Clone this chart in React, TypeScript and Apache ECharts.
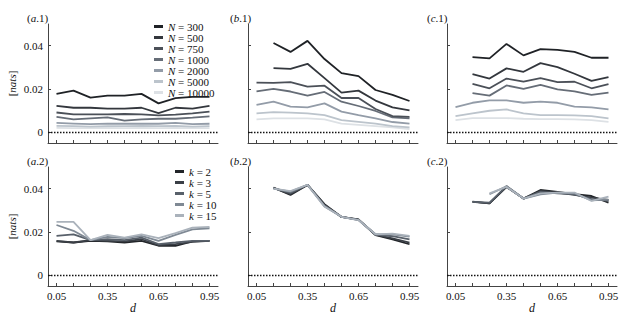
import React, { useEffect, useRef } from "react";
import * as echarts from "echarts";

const dValues = ["0.05", "0.15", "0.25", "0.35", "0.45", "0.55", "0.65", "0.75", "0.85", "0.95"];
const nNames = ["N = 300", "N = 500", "N = 750", "N = 1000", "N = 2000", "N = 5000", "N = 10000"];
const kNames = ["k = 2", "k = 3", "k = 5", "k = 10", "k = 15"];
const yTicks = [0, 0.02, 0.04];

// panel (a.1)
const a1N300 = [0.0177, 0.0192, 0.016, 0.0169, 0.0169, 0.0177, 0.0133, 0.0157, 0.0163, 0.0163];
const a1N500 = [0.0122, 0.0113, 0.0113, 0.0109, 0.0109, 0.0113, 0.0088, 0.0113, 0.0109, 0.0122];
const a1N750 = [0.0091, 0.0082, 0.0082, 0.0082, 0.0084, 0.0082, 0.0078, 0.0081, 0.0087, 0.0095];
const a1N1000 = [0.0071, 0.0059, 0.0064, 0.0068, 0.0053, 0.0059, 0.0062, 0.0062, 0.0067, 0.0073];
const a1N2000 = [0.0043, 0.004, 0.0037, 0.004, 0.0039, 0.004, 0.0039, 0.0043, 0.0037, 0.0039];
const a1N5000 = [0.0029, 0.0028, 0.0026, 0.0028, 0.0028, 0.0029, 0.0028, 0.0029, 0.0026, 0.0028];
const a1N10000 = [0.002, 0.0019, 0.0019, 0.002, 0.0019, 0.002, 0.0019, 0.002, 0.0019, 0.0019];

// panel (b.1)
const b1N300 = [null, 0.0412, 0.0371, 0.0422, 0.0338, 0.0273, 0.0259, 0.0195, 0.0172, 0.0144];
const b1N500 = [null, 0.0296, 0.0293, 0.0316, 0.025, 0.0183, 0.0192, 0.0146, 0.0115, 0.0101];
const b1N750 = [0.0229, 0.0228, 0.0231, 0.0211, 0.0215, 0.0158, 0.0158, 0.0107, 0.0074, 0.0071];
const b1N1000 = [0.0189, 0.02, 0.0188, 0.0169, 0.0186, 0.0141, 0.0121, 0.0098, 0.0068, 0.0064];
const b1N2000 = [0.0126, 0.0141, 0.0118, 0.0115, 0.0133, 0.0095, 0.0079, 0.0064, 0.0047, 0.004];
const b1N5000 = [0.0087, 0.0093, 0.009, 0.0087, 0.0079, 0.0056, 0.0048, 0.004, 0.0028, 0.0022];
const b1N10000 = [0.0059, 0.0064, 0.0064, 0.0064, 0.0059, 0.004, 0.0034, 0.0028, 0.0022, 0.0014];

// panel (c.1)
const c1N300 = [null, 0.0347, 0.0341, 0.0408, 0.0355, 0.0384, 0.038, 0.0371, 0.0344, 0.0344];
const c1N500 = [null, 0.0268, 0.0248, 0.0295, 0.0279, 0.0319, 0.0301, 0.027, 0.0237, 0.0254];
const c1N750 = [null, 0.0223, 0.0203, 0.0248, 0.0234, 0.025, 0.0231, 0.0233, 0.0203, 0.0222];
const c1N1000 = [null, 0.0181, 0.0169, 0.0216, 0.02, 0.0219, 0.0198, 0.0189, 0.0172, 0.0183];
const c1N2000 = [0.0116, 0.0136, 0.0147, 0.0147, 0.0136, 0.0141, 0.0136, 0.0118, 0.0115, 0.0105];
const c1N5000 = [0.0074, 0.0087, 0.0099, 0.0105, 0.0087, 0.0079, 0.0079, 0.0078, 0.0074, 0.0064];
const c1N10000 = [0.0056, 0.0065, 0.0065, 0.0065, 0.0062, 0.006, 0.006, 0.0059, 0.0056, 0.0048];

// panel (a.2)
const a2k2 = [0.0156, 0.0151, 0.0159, 0.0156, 0.0151, 0.0159, 0.0136, 0.0136, 0.0156, 0.0159];
const a2k3 = [0.0159, 0.0151, 0.0162, 0.0159, 0.0156, 0.0166, 0.0139, 0.0144, 0.0154, 0.0159];
const a2k5 = [0.0182, 0.0189, 0.0162, 0.0166, 0.0162, 0.0174, 0.0144, 0.0151, 0.0159, 0.0159];
const a2k10 = [0.0232, 0.0205, 0.0162, 0.0177, 0.0171, 0.0182, 0.0159, 0.0186, 0.0212, 0.0217];
const a2k15 = [0.0246, 0.0246, 0.0162, 0.0186, 0.0174, 0.0189, 0.0171, 0.0194, 0.022, 0.0223];

// panel (b.2)
const b2k2 = [null, 0.0405, 0.0371, 0.0417, 0.0328, 0.0269, 0.0258, 0.0185, 0.0166, 0.0143];
const b2k3 = [null, 0.0403, 0.0375, 0.0417, 0.0325, 0.0269, 0.0257, 0.0187, 0.017, 0.015];
const b2k5 = [null, 0.0402, 0.038, 0.0418, 0.0322, 0.027, 0.0256, 0.0188, 0.018, 0.0165];
const b2k10 = [null, 0.04, 0.0386, 0.0418, 0.0318, 0.027, 0.0255, 0.0189, 0.0189, 0.0178];
const b2k15 = [null, 0.04, 0.0389, 0.0417, 0.0317, 0.027, 0.0255, 0.0189, 0.0192, 0.0182];

// panel (c.2)
const c2k2 = [null, 0.034, 0.0332, 0.0408, 0.0354, 0.0394, 0.0385, 0.0374, 0.0366, 0.0335];
const c2k3 = [null, 0.0339, 0.0332, 0.0408, 0.0354, 0.0389, 0.0382, 0.0371, 0.0358, 0.0348];
const c2k5 = [null, 0.0339, 0.0335, 0.0412, 0.0354, 0.0385, 0.0378, 0.0374, 0.0352, 0.0343];
const c2k10 = [null, null, 0.0374, 0.0411, 0.0354, 0.0374, 0.0382, 0.0378, 0.0346, 0.0349];
const c2k15 = [null, null, 0.0378, 0.0408, 0.0354, 0.0378, 0.0382, 0.0382, 0.0343, 0.0363];

const nColors = ["#1f2226", "#33373d", "#4b5058", "#666d77", "#939ca8", "#bcc4cc", "#dde1e5"];
const kColors = ["#222529", "#3a3f46", "#58606a", "#7f8994", "#aab2bb"];

const FONT = "'Liberation Serif', 'DejaVu Serif', serif";

export default function App() {
  const ref = useRef<HTMLDivElement>(null);
  useEffect(() => {
    if (!ref.current) return;
    const chart = echarts.init(ref.current, null, { renderer: "svg" });

    const lefts = [48, 248, 447];
    const tops = [24, 167];
    const W = 170;
    const H = 119;
    const panelLetters = ["a", "b", "c"];

    const grids: any[] = [];
    const xAxes: any[] = [];
    const yAxes: any[] = [];
    const titles: any[] = [];
    for (let r = 0; r < 2; r++) {
      for (let c = 0; c < 3; c++) {
        const idx = r * 3 + c;
        grids.push({ left: lefts[c], top: tops[r], width: W, height: H });
        xAxes.push({
          type: "category",
          gridIndex: idx,
          data: dValues,
          boundaryGap: true,
          name: r === 1 ? "d" : "",
          nameLocation: "middle",
          nameGap: 16,
          nameTextStyle: { fontFamily: FONT, fontStyle: "italic", fontSize: 12, color: "#111" },
          axisLine: { show: true, onZero: false, lineStyle: { color: "#444", width: 1 } },
          axisTick: { show: true, inside: true, length: 3, alignWithLabel: true, interval: 0, lineStyle: { color: "#444" } },
          axisLabel: {
            show: r === 1,
            interval: (i: number) => i % 3 === 0,
            margin: 4,
            fontFamily: FONT,
            fontSize: 11,
            color: "#111",
          },
          splitLine: { show: false },
        });
        yAxes.push({
          type: "value",
          gridIndex: idx,
          min: -0.005,
          max: 0.05,
          name: c === 0 ? "[{i|nats}]" : "",
          nameLocation: "middle",
          nameRotate: 90,
          nameGap: 31,
          nameTextStyle: {
            fontFamily: FONT,
            fontSize: 11,
            color: "#111",
            rich: { i: { fontFamily: FONT, fontStyle: "italic", fontSize: 11, color: "#111" } },
          },
          axisLine: { show: true, onZero: false, lineStyle: { color: "#444", width: 1 } },
          axisTick: { show: true, inside: true, length: 3, customValues: yTicks, lineStyle: { color: "#444" } },
          axisLabel: {
            show: c === 0,
            customValues: yTicks,
            margin: 5,
            fontFamily: FONT,
            fontSize: 11,
            color: "#111",
            formatter: (v: number) => (v === 0 ? "0" : v.toFixed(2)),
          },
          splitLine: { show: false },
        });
        titles.push({
          text: "({i|" + panelLetters[c] + "}." + (r + 1) + ")",
          left: [22, 225, 422][c],
          top: tops[r] - 17,
          textStyle: {
            fontFamily: FONT,
            fontSize: 11,
            fontWeight: "normal",
            color: "#111",
            rich: { i: { fontFamily: FONT, fontStyle: "italic", fontSize: 11, color: "#111" } },
          },
        });
      }
    }

    const nPanels = [
      [a1N300, a1N500, a1N750, a1N1000, a1N2000, a1N5000, a1N10000],
      [b1N300, b1N500, b1N750, b1N1000, b1N2000, b1N5000, b1N10000],
      [c1N300, c1N500, c1N750, c1N1000, c1N2000, c1N5000, c1N10000],
    ];
    const kPanels = [
      [a2k2, a2k3, a2k5, a2k10, a2k15],
      [b2k2, b2k3, b2k5, b2k10, b2k15],
      [c2k2, c2k3, c2k5, c2k10, c2k15],
    ];

    const zeroLine = {
      silent: true,
      symbol: "none",
      label: { show: false },
      data: [{ yAxis: 0 }],
      lineStyle: { type: [1.5, 1.5], color: "#111", width: 1.3 },
    };

    const series: any[] = [];
    nPanels.forEach((panel, p) => {
      panel.forEach((vals, i) => {
        series.push({
          type: "line",
          name: nNames[i],
          xAxisIndex: p,
          yAxisIndex: p,
          data: vals,
          symbol: "none",
          z: 10 - i,
          lineStyle: { color: nColors[i], width: 1.8 },
          itemStyle: { color: nColors[i] },
          markLine: i === 0 ? zeroLine : undefined,
        });
      });
    });
    kPanels.forEach((panel, p) => {
      panel.forEach((vals, i) => {
        series.push({
          type: "line",
          name: kNames[i],
          xAxisIndex: 3 + p,
          yAxisIndex: 3 + p,
          data: vals,
          symbol: "none",
          z: 3 + i,
          lineStyle: { color: kColors[i], width: 1.8 },
          itemStyle: { color: kColors[i] },
          markLine: i === 0 ? zeroLine : undefined,
        });
      });
    });

    const legendText = {
      fontFamily: FONT,
      fontSize: 11,
      color: "#111",
      lineHeight: 10,
      rich: { i: { fontFamily: FONT, fontStyle: "italic", fontSize: 11, color: "#111", lineHeight: 10 } },
    };
    const fmt = (name: string) => name.replace(/^(N|k)/, "{i|$1}");

    chart.setOption({
      animation: false,
      backgroundColor: "#fff",
      title: titles,
      grid: grids,
      xAxis: xAxes,
      yAxis: yAxes,
      legend: [
        {
          data: nNames.map((n, i) => ({ name: n, itemStyle: { color: nColors[i] } })),
          orient: "vertical",
          left: 154,
          top: 21,
          itemGap: 0,
          itemWidth: 9,
          itemHeight: 3,
          icon: "rect",
          padding: 0,
          selectedMode: false,
          formatter: fmt,
          textStyle: legendText,
        },
        {
          data: kNames.map((n, i) => ({ name: n, itemStyle: { color: kColors[i] } })),
          orient: "vertical",
          left: 175,
          top: 166,
          itemGap: 0,
          itemWidth: 9,
          itemHeight: 3,
          icon: "rect",
          padding: 0,
          selectedMode: false,
          formatter: fmt,
          textStyle: legendText,
        },
      ],
      series,
    });
    return () => chart.dispose();
  }, []);
  return <div ref={ref} style={{ position: "fixed", left: 0, top: 0, width: 636, height: 317 }} />;
}
